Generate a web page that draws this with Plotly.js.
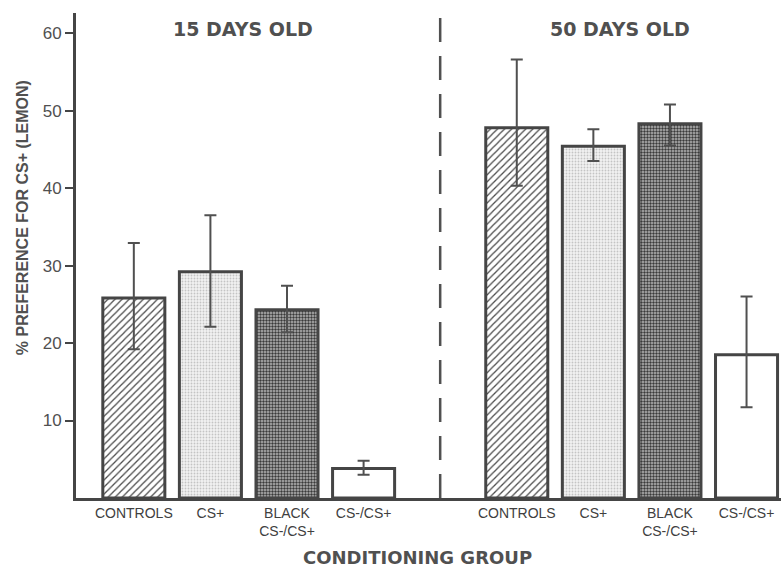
<!DOCTYPE html>
<html>
<head>
<meta charset="utf-8">
<script src="https://cdn.plot.ly/plotly-3.0.1.min.js"></script>
<style>html,body{margin:0;padding:0;background:#fff;}#chart{width:781px;height:569px;}</style>
</head>
<body>
<div id="chart"></div>
<script>
// Categories (tick labels) and groups
const groupLabels = ["CONTROLS", "CS+", "BLACK<br>CS-/CS+", "CS-/CS+"];
const ageLabels = ["15 DAYS OLD", "50 DAYS OLD"];

// % preference for CS+ (lemon), means and error bars
const means15 = [25.8, 29.2, 24.3, 3.8];
const errUp15 = [7.1, 7.3, 3.1, 1.0];
const errDown15 = [6.6, 7.1, 2.9, 0.8];

const means50 = [47.8, 45.4, 48.3, 18.5];
const errUp50 = [8.8, 2.2, 2.5, 7.5];
const errDown50 = [7.5, 1.9, 2.8, 6.8];

const yTicks = [10, 20, 30, 40, 50, 60];

// styling per group
const patShape = ["/", ".", ".", ""];
const patFg = ["#4a4a4a", "#c4c4c4", "#3a3a3a", "#444444"];
const patBg = ["#ffffff", "#f2f2f2", "#b8b8b8", "#ffffff"];
const patSize = [5, 3, 3, 6];
const patSolid = [0.25, 0.3, 0.5, 0.3];

const nG = groupLabels.length;
const gap = 1;
const pos15 = groupLabels.map((_, i) => i);
const pos50 = groupLabels.map((_, i) => i + nG + gap);
const sepPos = nG - 1 + (gap + 1) / 2;

const data = groupLabels.map((lab, i) => {
  const pat = patShape[i] ? {shape: patShape[i], fgcolor: patFg[i], bgcolor: patBg[i], size: patSize[i], solidity: patSolid[i], fillmode: "replace"} : {shape: ""};
  return {
    type: "bar",
    name: lab,
    x: [pos15[i], pos50[i]],
    y: [means15[i], means50[i]],
    width: 0.81,
    marker: {color: patBg[i], line: {color: "#454545", width: 3}, pattern: pat},
    error_y: {type: "data", symmetric: false, array: [errUp15[i], errUp50[i]], arrayminus: [errDown15[i], errDown50[i]],
              color: "#505050", thickness: 2, width: 6},
    hoverinfo: "skip",
    showlegend: false
  };
});

const txtColor = "#505050";
const layout = {
  width: 781, height: 569,
  margin: {l: 76, r: 0, t: 13, b: 71},
  paper_bgcolor: "#fff", plot_bgcolor: "#fff",
  showlegend: false,
  barmode: "overlay",
  xaxis: {
    range: [-0.755, pos50[nG - 1] + 0.45],
    tickvals: pos15.concat(pos50),
    ticktext: groupLabels.concat(groupLabels),
    tickfont: {family: "Liberation Sans, Arial, sans-serif", size: 14, color: "#404040"},
    showline: true, linecolor: "#454545", linewidth: 3,
    ticks: "", showgrid: false, zeroline: false, fixedrange: true
  },
  yaxis: {
    range: [0, 62.6],
    tickvals: yTicks,
    tickfont: {family: "Liberation Sans, Arial, sans-serif", size: 17, color: txtColor},
    ticks: "outside", ticklen: 8, tickwidth: 2, tickcolor: "#454545",
    showline: true, linecolor: "#454545", linewidth: 3,
    showgrid: false, zeroline: false, fixedrange: true
  },
  shapes: [{
    type: "line", xref: "x", yref: "y",
    x0: sepPos, x1: sepPos, y0: 0, y1: 62.3,
    line: {color: "#505050", width: 2.5, dash: "24px,14px"}
  }],
  annotations: [
    {text: ageLabels[0], xref: "x", yref: "y", x: 1.43, y: 60.6, showarrow: false,
     font: {family: "DejaVu Sans, sans-serif", size: 19, color: txtColor, weight: "bold"}},
    {text: ageLabels[1], xref: "x", yref: "y", x: 6.35, y: 60.6, showarrow: false,
     font: {family: "DejaVu Sans, sans-serif", size: 19, color: txtColor, weight: "bold"}},
    {text: "CONDITIONING GROUP", xref: "paper", yref: "paper", x: 0.484, y: -0.122, yanchor: "middle", showarrow: false,
     font: {family: "DejaVu Sans, sans-serif", size: 18, color: txtColor, weight: "bold"}},
    {text: "% PREFERENCE FOR CS+ (LEMON)", xref: "paper", yref: "paper", x: -0.0766, y: 0.579, textangle: -90,
     xanchor: "center", yanchor: "middle", showarrow: false,
     font: {family: "Liberation Sans, Arial, sans-serif", size: 16, color: txtColor, weight: "bold"}}
  ]
};

Plotly.newPlot("chart", data, layout, {staticPlot: true, displayModeBar: false});
</script>
</body>
</html>
